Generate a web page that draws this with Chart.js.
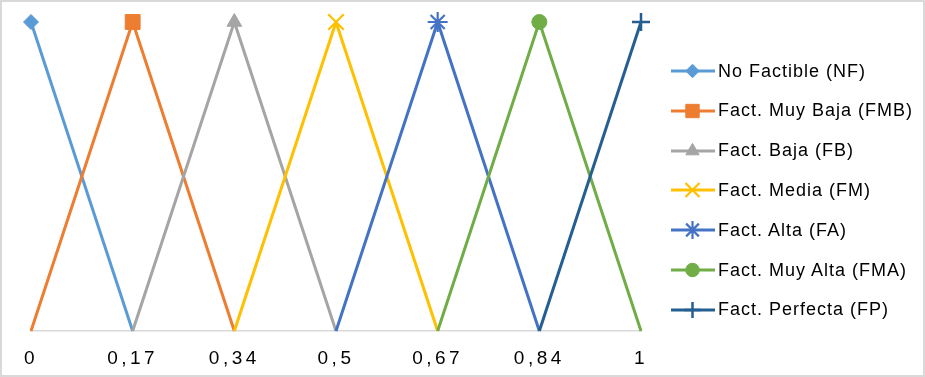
<!DOCTYPE html>
<html>
<head>
<meta charset="utf-8">
<script src="https://cdn.jsdelivr.net/npm/chart.js@4.4.1/dist/chart.umd.min.js"></script>
<style>
  html, body { margin: 0; padding: 0; background: #fff; }
  #wrap { position: relative; width: 925px; height: 377px; overflow: hidden; background: #fff; }
  #c { position: absolute; left: 0; top: 0; }
  #frame { position: absolute; left: 0; top: 0; width: 925px; height: 377px; box-sizing: border-box; border: 2px solid #d9d9d9; pointer-events: none; }
  #legend { position: absolute; left: 0; top: 0; width: 925px; height: 377px; pointer-events: none; }
  .row { position: absolute; left: 671px; height: 24px; display: flex; align-items: center; }
  .row canvas { width: 44px; height: 24px; display: block; }
  .row span { margin-left: 3px; font-family: "Liberation Sans", Arial, sans-serif; font-size: 18px; letter-spacing: 1px; color: #000; white-space: nowrap; }
</style>
</head>
<body>
<div id="wrap">
  <canvas id="c" width="925" height="377"></canvas>
  <div id="legend"></div>
  <div id="frame"></div>
</div>
<script>
// ---- data ----
const categories = ['0', '0,17', '0,34', '0,5', '0,67', '0,84', '1'];
const seriesNames = ['No Factible (NF)', 'Fact. Muy Baja (FMB)', 'Fact. Baja (FB)', 'Fact. Media (FM)', 'Fact. Alta (FA)', 'Fact. Muy Alta (FMA)', 'Fact. Perfecta (FP)'];
const NF  = [1, 0, null, null, null, null, null];
const FMB = [0, 1, 0, null, null, null, null];
const FB  = [null, 0, 1, 0, null, null, null];
const FM  = [null, null, 0, 1, 0, null, null];
const FA  = [null, null, null, 0, 1, 0, null];
const FMA = [null, null, null, null, 0, 1, 0];
const FP  = [null, null, null, null, null, 0, 1];
const seriesValues = [NF, FMB, FB, FM, FA, FMA, FP];

// ---- styles ----
const colors = ['#5B9BD5', '#ED7D31', '#A5A5A5', '#FFC000', '#4472C4', '#70AD47', '#255E91'];
const markers = [
  { style: 'rectRot', r: 7.5, bw: 1 },
  { style: 'rect', r: 10.5, bw: 1 },
  { style: 'triangle', r: 8.5, bw: 1 },
  { style: 'crossRot', r: 11, bw: 2.2 },
  { style: 'star', r: 10, bw: 2.2 },
  { style: 'circle', r: 7.5, bw: 1 },
  { style: 'cross', r: 9, bw: 2.5 }
];

const datasets = seriesValues.map((vals, i) => ({
  label: seriesNames[i],
  data: vals,
  borderColor: colors[i],
  backgroundColor: colors[i],
  borderWidth: 3,
  borderJoinStyle: 'round',
  tension: 0,
  spanGaps: false,
  clip: false,
  order: 10 - i,
  pointStyle: markers[i].style,
  pointRadius: (ctx) => (ctx.raw === 1 ? markers[i].r : 0),
  pointBorderWidth: markers[i].bw,
  pointBorderColor: colors[i],
  pointBackgroundColor: colors[i]
}));

const spacingPlugin = {
  id: 'spacing',
  beforeDraw(chart) {
    chart.ctx.letterSpacing = '3.5px';
  }
};

new Chart(document.getElementById('c'), {
  type: 'line',
  data: { labels: categories, datasets },
  options: {
    responsive: false,
    animation: false,
    events: [],
    layout: { padding: { left: 31, right: 284, top: 22, bottom: 0 } },
    plugins: { legend: { display: false }, tooltip: { enabled: false } },
    scales: {
      x: {
        type: 'category',
        offset: false,
        grid: { display: false, drawTicks: false },
        border: { display: true, color: '#d9d9d9', width: 1.5 },
        ticks: {
          color: '#000',
          font: { family: '"Liberation Sans", Arial, sans-serif', size: 19 },
          padding: 16,
          maxRotation: 0,
          autoSkip: false
        },
        afterFit(scale) { scale.height = 46; }
      },
      y: {
        display: false,
        min: 0,
        max: 1
      }
    }
  },
  plugins: [spacingPlugin]
});

// ---- legend (HTML text, canvas swatches) ----
const legend = document.getElementById('legend');
seriesNames.forEach((name, i) => {
  const row = document.createElement('div');
  row.className = 'row';
  row.style.top = (71 + 39.8 * i - 12) + 'px';
  const sw = document.createElement('canvas');
  sw.width = 44; sw.height = 24;
  const ctx = sw.getContext('2d');
  ctx.strokeStyle = colors[i];
  ctx.lineWidth = 3;
  ctx.beginPath();
  ctx.moveTo(0, 12); ctx.lineTo(44, 12);
  ctx.stroke();
  ctx.fillStyle = colors[i];
  ctx.strokeStyle = colors[i];
  ctx.lineWidth = markers[i].bw;
  if (Chart.helpers && Chart.helpers.drawPoint) {
    Chart.helpers.drawPoint(ctx, { pointStyle: markers[i].style, radius: markers[i].r * 0.9, rotation: 0, borderWidth: markers[i].bw }, 21.5, 12);
  }
  const txt = document.createElement('span');
  txt.textContent = name;
  row.appendChild(sw);
  row.appendChild(txt);
  legend.appendChild(row);
});
</script>
</body>
</html>
